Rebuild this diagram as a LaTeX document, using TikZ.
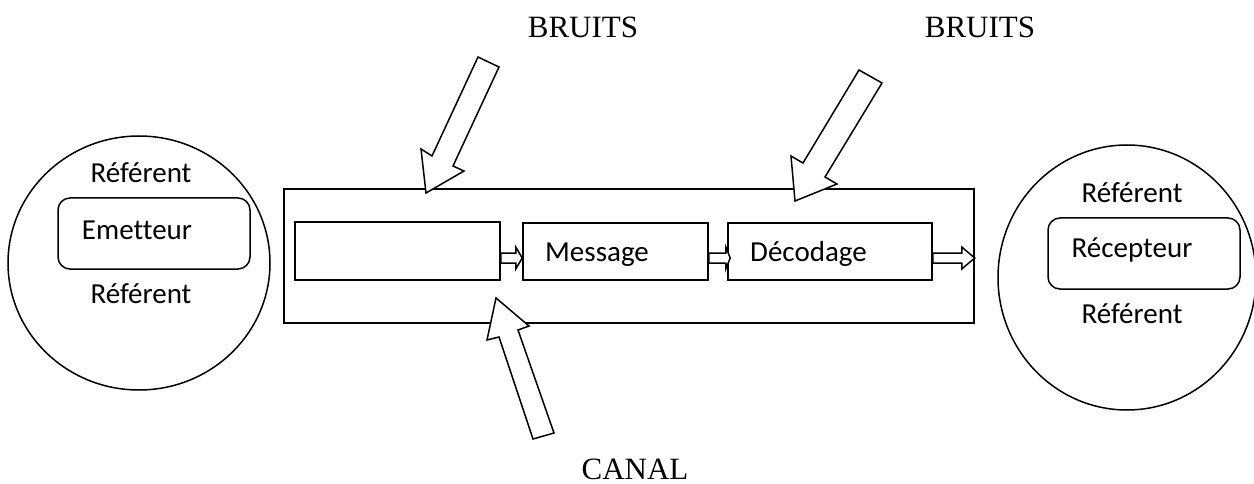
\documentclass[tikz,border=0pt]{standalone}
\usepackage{fontspec}
\setmainfont{Liberation Serif}
\newfontfamily\calibrifont[Ligatures=NoCommon]{Carlito}
\usetikzlibrary{calc}
\begin{document}
\begin{tikzpicture}[x=1pt,y=-1pt,
  box/.style={draw,line width=1.5pt,rectangle,inner sep=0pt},
  rbox/.style={draw,line width=1.5pt,rectangle,rounded corners=12pt,inner sep=0pt},
  oval/.style={draw,line width=1.5pt},
  lbl/.style={font=\calibrifont\fontsize{29}{34}\selectfont,inner sep=0pt,anchor=base},
  ttl/.style={font=\fontsize{31}{36}\selectfont,inner sep=0pt,anchor=base},
  blockarrow/.style={draw,fill=white,line width=1.5pt,line join=miter}]
\useasboundingbox (0,0) rectangle (1254,484);
% ellipses
\draw[oval] (139,263) ellipse [x radius=131, y radius=127];
\draw[oval] (1127,277.5) ellipse [x radius=129, y radius=132.5];
% sender
\node[rbox,minimum width=192pt,minimum height=71pt] (em) at (154,233.5) {};
\node[lbl] (emt) at (137,240) {Emetteur};
\node[lbl] (r1) at (141,183) {Référent};
\node[lbl] (r2) at (141,303) {Référent};
% receiver
\node[rbox,minimum width=192pt,minimum height=71pt] (rc) at (1144,253.5) {};
\node[lbl] (rct) at (1132,258) {Récepteur};
\node[lbl] (r3) at (1132,203) {Référent};
\node[lbl] (r4) at (1132,323) {Référent};
% channel
\node[box,minimum width=690pt,minimum height=134pt] (canal) at (629,256) {};
\node[box,minimum width=205pt,minimum height=58pt] (b1) at (397.5,251) {};
\node[box,minimum width=185pt,minimum height=57pt] (msg) at (615.5,251.5) {};
\node[lbl,anchor=base west] (msgt) at (545,261) {Message};
\node[box,minimum width=204pt,minimum height=57pt] (dec) at (830,251.5) {};
\node[lbl,anchor=base west] (dect) at (750,261) {Décodage};
% small hollow arrows
\draw[blockarrow] ($(b1.east)+(0,2)$) -- ++(15,0) -- ++(0,-6) -- ($(msg.west)+(0,6.5)$) -- ($(b1.east)+(15,18)$) -- ++(0,-6) -- ($(b1.east)+(0,12)$) -- cycle;
\draw[blockarrow] ($(msg.east)+(0,1.5)$) -- ++(17,0) -- ++(0,-6) -- ($(dec.west)+(3,6.5)$) -- ($(msg.east)+(17,17.5)$) -- ++(0,-6) -- ($(msg.east)+(0,11.5)$) -- cycle;
\draw[blockarrow] ($(dec.east)+(0,1.5)$) -- ++(29,0) -- ++(0,-6) -- ($(canal.east|-dec.east)+(0,6.5)$) -- ($(dec.east)+(29,17.5)$) -- ++(0,-6) -- ($(dec.east)+(0,11.5)$) -- cycle;
% titles
\node[ttl] (n1) at (583,38) {BRUITS};
\node[ttl] (n2) at (980,38) {BRUITS};
\node[ttl] (n3) at (635,479) {CANAL};
% big block arrows
\draw[blockarrow] (478,57) -- (499,67) -- (453,166) -- (464,171) -- (426,193) -- (421,149) -- (432,156) -- cycle;
\draw[blockarrow] (859,70) -- (882,83) -- (825,177) -- (837,184) -- (795,201) -- (791,156) -- (803,163) -- cycle;
\draw[blockarrow] (496,298) -- (529,326) -- (518,330) -- (554,433) -- (533,439) -- (499,337) -- (487,340) -- cycle;
\end{tikzpicture}
\end{document}
